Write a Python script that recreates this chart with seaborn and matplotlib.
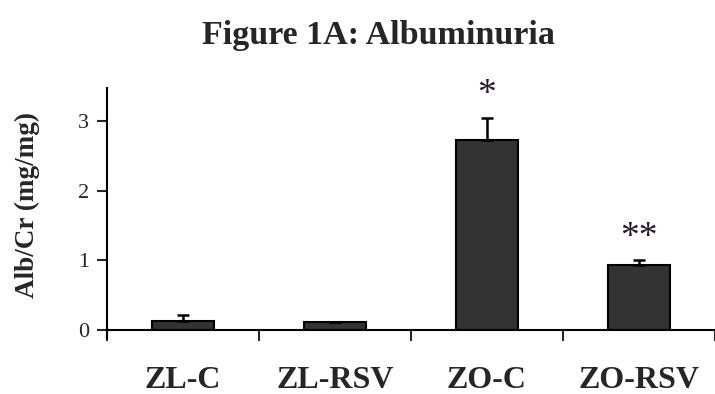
import numpy as np
import pandas as pd
import matplotlib
matplotlib.use("Agg")
import matplotlib.pyplot as plt
import seaborn as sns

groups = ["ZL-C", "ZL-RSV", "ZO-C", "ZO-RSV"]
alb_cr = [0.13, 0.12, 2.73, 0.93]
sem = [0.08, 0.0, 0.31, 0.07]
marks = ["", "", "*", "**"]

sns.set_theme(style="white")
plt.rcParams["font.family"] = ["Liberation Serif", "DejaVu Serif"]

df = pd.DataFrame({"group": groups, "value": alb_cr})

fig = plt.figure(figsize=(7.15, 3.94), dpi=100)
ax = fig.add_axes([0.1497, 0.1624, 0.85, 0.6142])

sns.barplot(data=df, x="group", y="value", color="#333333", width=0.41,
            edgecolor="black", linewidth=1.5, errorbar=None, ax=ax, saturation=1)
xs = np.arange(len(groups))
ax.errorbar(xs, alb_cr, yerr=[np.zeros(len(sem)), sem], fmt="none",
            ecolor="black", elinewidth=1.8, capsize=4.5, capthick=1.8)

# significance marks above the error bars
for x, v, e, m in zip(xs, alb_cr, sem, marks):
    if m:
        ax.text(x, v + e + 0.33, m, ha="center", va="center", fontsize=27,
                color="#2a1a2a", clip_on=False)

ax.set_xlim(-0.5, 3.5)
ax.set_ylim(0, 3.47)
ax.set_yticks([0, 1, 2, 3])
ax.tick_params(axis="y", direction="out", length=7, width=1.5, labelsize=16, pad=6, left=True)
ax.set_xticks(np.arange(-0.5, 4, 1), minor=True)
ax.tick_params(axis="x", which="minor", direction="out", length=8, width=1.5, bottom=True)
ax.tick_params(axis="x", which="major", length=0, labelsize=23, pad=26)
for lab in ax.get_xticklabels():
    lab.set_fontweight("bold")

for s in ["top", "right"]:
    ax.spines[s].set_visible(False)
for s in ["left", "bottom"]:
    ax.spines[s].set_color("black")
    ax.spines[s].set_linewidth(1.5)
ax.spines["left"].set_bounds(-0.12, 3.47)

ax.set_xlabel("")
ax.set_ylabel("Alb/Cr (mg/mg)", fontsize=19.5, fontweight="bold")
ax.yaxis.set_label_coords(-0.11, 0.517)

fig.text(0.53, 0.911, "Figure 1A: Albuminuria", ha="center", va="center",
         fontsize=24.5, fontweight="bold")

fig.savefig("out.png", dpi=100)
